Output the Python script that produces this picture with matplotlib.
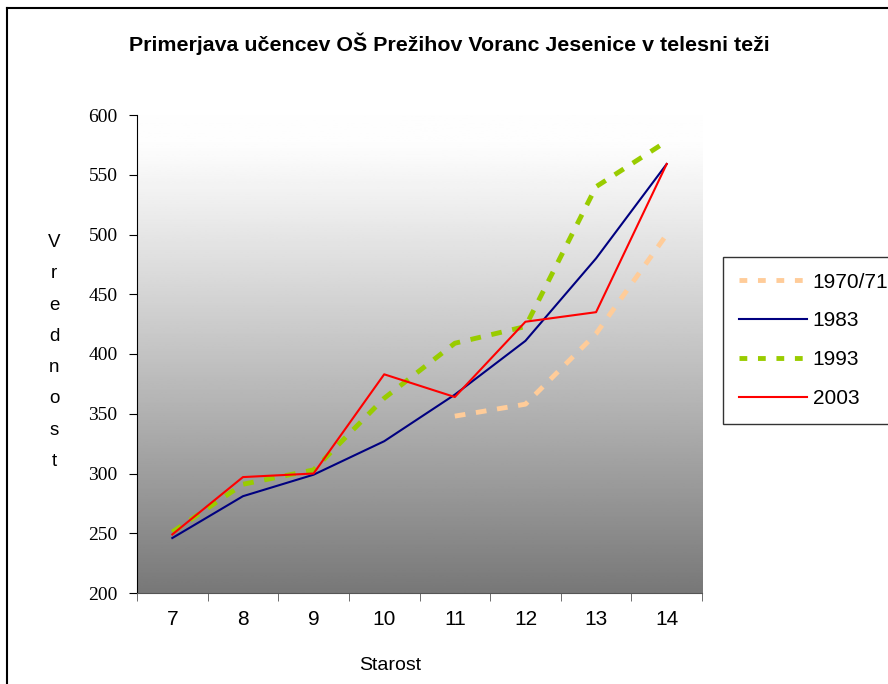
import matplotlib.pyplot as plt
import numpy as np
from matplotlib.lines import Line2D

# data
starost = [7, 8, 9, 10, 11, 12, 13, 14]
leto_1970 = [None, None, None, None, 348, 358, 417, 500]
leto_1983 = [246, 281, 299, 327, 366, 411, 480, 559]
leto_1993 = [251, 291, 303, 363, 409, 423, 540, 578]
leto_2003 = [249, 297, 300, 383, 364, 427, 435, 559]
serije = ['1970/71', '1983', '1993', '2003']

W, H = 888, 684
fig = plt.figure(figsize=(W / 100, H / 100), dpi=100)
ax = fig.add_axes([137 / W, 1 - 593 / H, (702 - 137) / W, (593 - 115) / H])

# gray gradient background of the plot area
grad = np.linspace(0, 1, 256).reshape(-1, 1)
shade = 0.995 - 0.525 * np.clip((grad - 0.05) / 0.95, 0, 1) ** 1.1
ax.imshow(shade, extent=[6.5, 14.5, 200, 600], aspect='auto', cmap='gray',
          vmin=0, vmax=1, origin='upper', zorder=0)


def clean(vals):
    return [np.nan if v is None else v for v in vals]


ax.plot(starost, clean(leto_1970), color='#ffcc99', lw=3.5, dashes=(2.2, 2.2), zorder=2)
ax.plot(starost, leto_1983, color='#000080', lw=1.5, zorder=3)
ax.plot(starost, leto_1993, color='#99cc00', lw=3.5, dashes=(2.2, 2.2), zorder=2)
ax.plot(starost, leto_2003, color='#ff0000', lw=1.5, zorder=4)

ax.set_xlim(6.5, 14.5)
ax.set_ylim(200, 600)
ax.set_yticks(range(200, 601, 50))
ax.set_xticks(starost)
ax.set_xticks(np.arange(6.5, 15, 1), minor=True)
ax.tick_params(axis='x', which='major', length=0, pad=12)
ax.tick_params(axis='x', which='minor', length=6, direction='out', color='#555555')
ax.tick_params(axis='y', length=6, direction='out', pad=8)
for lab in ax.get_xticklabels():
    lab.set_fontfamily('Liberation Sans')
    lab.set_fontsize(15)
for lab in ax.get_yticklabels():
    lab.set_fontfamily('Liberation Serif')
    lab.set_fontsize(14)
ax.spines['top'].set_visible(False)
ax.spines['right'].set_visible(False)
ax.spines['bottom'].set_color('#555555')

fig.text(449 / W, 1 - 44 / H, 'Primerjava učencev OŠ Prežihov Voranc Jesenice v telesni teži',
         ha='center', va='center', fontsize=15.4, fontweight='bold', family='Liberation Sans')
fig.text(390 / W, 1 - 666 / H, 'Starost', ha='center', va='center',
         fontsize=14, family='Liberation Sans')
fig.text(54 / W, 1 - 352 / H, '\n'.join('Vrednost'), ha='center', va='center',
         fontsize=13.5, family='Liberation Sans', linespacing=2.1)

# chart border (cut off on right and bottom)
fig.add_artist(Line2D([7 / W, 7 / W], [0, 1 - 8 / H], color='black', lw=1.5,
                      transform=fig.transFigure))
fig.add_artist(Line2D([7 / W, 1], [1 - 8 / H, 1 - 8 / H], color='black', lw=1.5,
                      transform=fig.transFigure))

# legend box
handles = [
    Line2D([], [], color='#ffcc99', lw=3.5, dashes=(1.6, 2.2)),
    Line2D([], [], color='#000080', lw=1.5),
    Line2D([], [], color='#99cc00', lw=3.5, dashes=(1.6, 2.2)),
    Line2D([], [], color='#ff0000', lw=1.5),
]
leg = fig.legend(handles, serije, loc='upper left', bbox_to_anchor=(723 / W, 1 - 257 / H),
                 frameon=True, fancybox=False, handlelength=3.3,
                 labelspacing=0.95, borderpad=0.75, handletextpad=0.25,
                 borderaxespad=0, prop={'family': 'Liberation Sans', 'size': 15})
leg.get_frame().set_edgecolor('black')
leg.get_frame().set_linewidth(1.0)

fig.savefig('out.png', dpi=100)
